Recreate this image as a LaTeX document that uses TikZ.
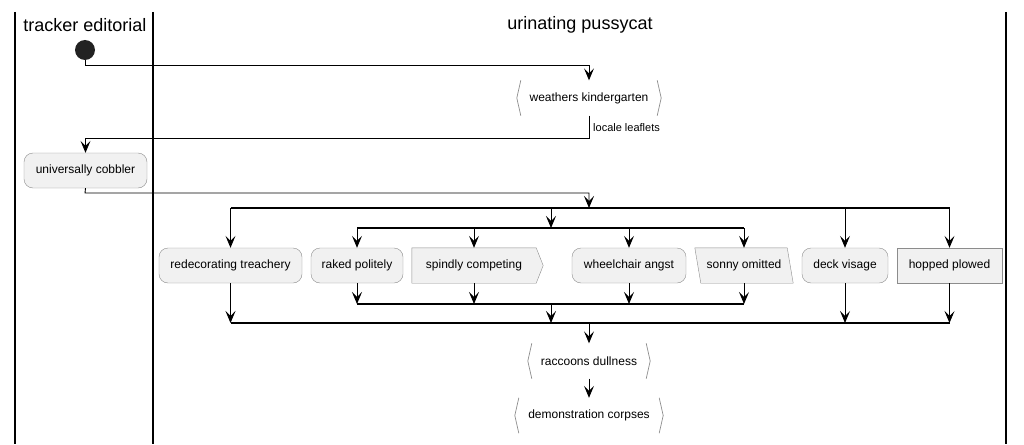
\documentclass[tikz,border=0pt]{standalone}
\usepackage{fontspec}
\setmainfont{Liberation Sans}
\usetikzlibrary{arrows.meta,backgrounds}
\definecolor{actfill}{HTML}{F1F1F1}
\definecolor{actline}{HTML}{8C8C8C}
\definecolor{startfill}{HTML}{222222}
\tikzset{
  lane/.style={line width=1.4pt,black},
  act/.style={rectangle,draw=actline,fill=actfill,rounded corners=9pt,minimum height=35pt,inner sep=0pt,font=\fontsize{12}{14}\selectfont},
  plain/.style={rectangle,minimum height=35pt,inner sep=0pt,font=\fontsize{12}{14}\selectfont},
  hexline/.style={draw=actline,line width=0.7pt},
  flow/.style={line width=0.9pt,-{Stealth[length=12pt,width=10pt,inset=5pt]}},
  bar/.style={line width=1.1pt},
  title/.style={font=\fontsize{18}{21}\selectfont}
}

\begin{document}
\begin{tikzpicture}[x=1pt,y=-1pt]
  \useasboundingbox (0,0) rectangle (1024,444);
  % swimlanes
  \draw[lane] (15,12) -- (15,444);
  \draw[lane] (153,12) -- (153,444);
  \draw[lane] (1006,12) -- (1006,444);
  \node[title] (laneA) at (85,25) {tracker editorial};
  \node[title] (laneB) at (580,25) {urinating pussycat};

  % activities
  \node[circle,fill=startfill,minimum size=20pt,inner sep=0pt] (start) at (85,50) {};
  \node[plain,minimum width=144pt] (wk) at (589,98) {weathers kindergarten};
  \node[act,minimum width=123pt] (uc) at (85.5,170.5) {universally cobbler};
  \node[act,minimum width=143pt] (rt) at (230.5,265.5) {redecorating treachery};
  \node[act,minimum width=92pt] (rp) at (357,265.5) {raked politely};
  \node[plain,minimum width=124pt] (sc) at (474,265.5) {spindly competing};
  \node[act,minimum width=114pt] (wa) at (629,265.5) {wheelchair angst};
  \node[plain,minimum width=98pt] (so) at (744,265.5) {sonny omitted};
  \node[act,minimum width=86pt] (dv) at (845,265.5) {deck visage};
  \node[act,rounded corners=0pt,minimum width=105pt] (hp) at (949.5,265.5) {hopped plowed};
  \node[plain,minimum width=122pt] (rd) at (589,361) {raccoons dullness};
  \node[plain,minimum width=148pt] (dc) at (589,415.5) {demonstration corpses};

  % odd shapes
  \begin{scope}[on background layer]
    \draw[draw=actline,fill=actfill] (sc.north west) -- (sc.north east) -- ([xshift=7pt]sc.east)
      -- (sc.south east) -- (sc.south west) -- cycle;
    \draw[draw=actline,fill=actfill] (so.north west) -- ([xshift=-6pt]so.north east)
      -- (so.south east) -- ([xshift=6pt]so.south west) -- cycle;
  \end{scope}
  \foreach \n in {wk,rd,dc} {
    \draw[hexline] ([xshift=4pt]\n.north west) -- (\n.west) -- ([xshift=4pt]\n.south west);
    \draw[hexline] ([xshift=-4pt]\n.north east) -- (\n.east) -- ([xshift=-4pt]\n.south east);
  }

  % flow
  \coordinate (s1) at (85,65);
  \coordinate (s2) at (589,138);
  \coordinate (s3) at (85,193);
  \coordinate (fork1) at (589,208);
  \coordinate (fork2) at (551,228);
  \coordinate (join2) at (551,304);
  \coordinate (join1) at (589,323);
  \draw[flow] (start) -- (s1) -| (wk.north);
  \draw[flow] (wk.south) -- (s2) -| (uc.north);
  \node[anchor=west,inner sep=0pt,font=\fontsize{11}{13}\selectfont] (ll) at (593,128) {locale leaflets};
  \draw[flow] (uc.south) -- (s3) -| (fork1);
  \draw[bar] (rt.north |- fork1) -- (hp.north |- fork1);
  \draw[flow] (fork2 |- fork1) -- (fork2);
  \draw[bar] (rp.north |- fork2) -- (so.north |- fork2);
  \foreach \n in {rt,dv,hp} \draw[flow] (\n.north |- fork1) -- (\n.north);
  \foreach \n in {rp,sc,wa,so} \draw[flow] (\n.north |- fork2) -- (\n.north);
  \draw[bar] (rp.south |- join2) -- (so.south |- join2);
  \draw[bar] (rt.south |- join1) -- (hp.south |- join1);
  \foreach \n in {rp,sc,wa,so} \draw[flow] (\n.south) -- (\n.south |- join2);
  \foreach \n in {rt,dv,hp} \draw[flow] (\n.south) -- (\n.south |- join1);
  \draw[flow] (join2) -- (join2 |- join1);
  \draw[flow] (join1) -- (rd.north);
  \draw[flow] (rd.south) -- (dc.north);
\end{tikzpicture}
\end{document}
